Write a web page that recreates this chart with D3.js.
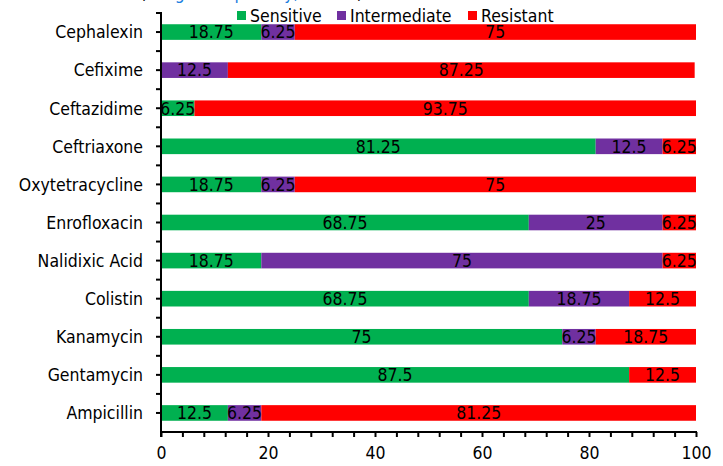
<!DOCTYPE html>
<html>
<head>
<meta charset="utf-8">
<script src="https://cdn.jsdelivr.net/npm/d3@7"></script>
<style>
  html, body { margin: 0; padding: 0; background: #fff; }
  svg { display: block; font-family: "DejaVu Sans Condensed", "DejaVu Sans", sans-serif; }
</style>
</head>
<body>
<svg id="chart" width="723" height="466"></svg>
<script>
// Antibiotic susceptibility profile (% of isolates)
const antibiotics = ["Cephalexin", "Cefixime", "Ceftazidime", "Ceftriaxone", "Oxytetracycline",
  "Enrofloxacin", "Nalidixic Acid", "Colistin", "Kanamycin", "Gentamycin", "Ampicillin"];
const sensitive    = [18.75, 0, 6.25, 81.25, 18.75, 68.75, 18.75, 68.75, 75, 87.5, 12.5];
const intermediate = [6.25, 12.5, 0, 12.5, 6.25, 25, 75, 18.75, 6.25, 0, 6.25];
const resistant    = [75, 87.25, 93.75, 6.25, 75, 6.25, 6.25, 12.5, 18.75, 12.5, 81.25];
const seriesNames  = ["Sensitive", "Intermediate", "Resistant"];
const seriesColors = ["#00B050", "#7030A0", "#FF0000"];
const xTickValues  = [0, 20, 40, 60, 80, 100];

const FS = 17.5;

const rows = antibiotics.map((name, i) => ({
  name, Sensitive: sensitive[i], Intermediate: intermediate[i], Resistant: resistant[i]
}));
const stacked = d3.stack().keys(seriesNames)(rows);

const svg = d3.select("#chart");
const W = 723, H = 466;
const margin = { top: 13, right: 27, bottom: 34, left: 161 };

const x = d3.scaleLinear().domain([0, 100]).range([margin.left, W - margin.right]);
const y = d3.scaleBand().domain(antibiotics).range([margin.top, H - margin.bottom]).paddingInner(0.59).paddingOuter(0.295);
const band = d3.scaleBand().domain(antibiotics).range([margin.top, H - margin.bottom]);

// Title line (runs off the top edge)
const title = svg.append("text").attr("x", 140).attr("y", -1)
  .attr("font-size", FS).attr("fill", "#000");
title.append("tspan").text("(");
title.append("tspan").attr("fill", "#1F7FE0").text("Drug susceptibility, n = 16");
title.append("tspan").text(")");

// Bars
const layer = svg.append("g").selectAll("g").data(stacked).join("g")
  .attr("fill", (d, i) => seriesColors[i]);
layer.selectAll("rect").data(d => d.map(s => ({ s, key: d.key })))
  .join("rect")
  .attr("x", d => x(d.s[0]))
  .attr("y", d => y(d.s.data.name))
  .attr("width", d => x(d.s[1]) - x(d.s[0]))
  .attr("height", y.bandwidth());

// Value labels
const labels = svg.append("g").attr("font-size", FS).attr("fill", "#000").attr("text-anchor", "middle");
stacked.forEach(series => {
  series.forEach(s => {
    const v = s.data[series.key];
    if (!v) return;
    labels.append("text")
      .attr("x", x((s[0] + s[1]) / 2))
      .attr("y", y(s.data.name) + y.bandwidth() / 2)
      .attr("dy", "0.36em")
      .text(v);
  });
});

// X axis with minor ticks every 4 units
const xAxisY = H - margin.bottom;
svg.append("g").attr("transform", `translate(0,${xAxisY})`)
  .call(d3.axisBottom(x).tickValues(d3.range(0, 101, 4)).tickSize(5).tickFormat(""))
  .call(g => g.select(".domain").remove())
  .call(g => g.selectAll("line").attr("stroke", "#000").attr("stroke-width", 2));
svg.append("g").attr("transform", `translate(0,${xAxisY})`)
  .call(d3.axisBottom(x).tickValues(xTickValues).tickSize(0).tickPadding(15))
  .call(g => g.select(".domain").remove())
  .call(g => g.selectAll("text").attr("font-size", FS).attr("fill", "#000")
    .attr("font-family", "DejaVu Sans Condensed, DejaVu Sans, sans-serif"));
svg.append("line").attr("x1", x(0) - 1).attr("x2", x(100) + 1)
  .attr("y1", xAxisY).attr("y2", xAxisY).attr("stroke", "#000").attr("stroke-width", 2);

// Y axis: category labels plus ticks at centres and band boundaries
const yTicks = [];
antibiotics.forEach(a => {
  yTicks.push(band(a));
  yTicks.push(band(a) + band.bandwidth() / 2);
});
svg.append("g").selectAll("line").data(yTicks).join("line")
  .attr("x1", x(0) - 5).attr("x2", x(0)).attr("y1", d => d).attr("y2", d => d)
  .attr("stroke", "#000").attr("stroke-width", 2);
svg.append("line").attr("x1", x(0)).attr("x2", x(0))
  .attr("y1", margin.top - 1).attr("y2", xAxisY + 5).attr("stroke", "#000").attr("stroke-width", 2);
svg.append("g").attr("font-size", FS).attr("fill", "#000").attr("text-anchor", "end")
  .selectAll("text").data(antibiotics).join("text")
  .attr("x", x(0) - 18)
  .attr("y", d => band(d) + band.bandwidth() / 2)
  .attr("dy", "0.36em")
  .text(d => d);

// Legend
const legendX = [237, 337, 468];
const legend = svg.append("g");
seriesNames.forEach((name, i) => {
  legend.append("rect").attr("x", legendX[i]).attr("y", 11).attr("width", 9).attr("height", 9)
    .attr("fill", seriesColors[i]);
  legend.append("text").attr("x", legendX[i] + 13).attr("y", 16).attr("dy", "0.36em")
    .attr("font-size", FS).attr("fill", "#000").text(name);
});
</script>
</body>
</html>
